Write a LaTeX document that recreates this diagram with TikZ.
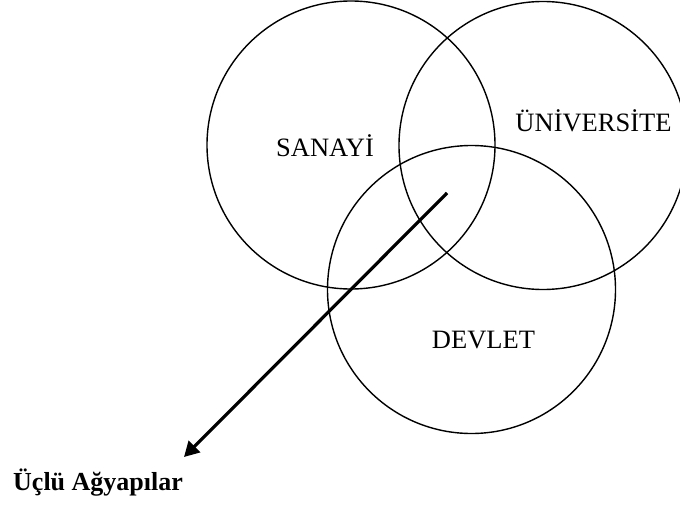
\documentclass[tikz,border=0pt]{standalone}
\usepackage{fontspec}
\setmainfont{Liberation Serif}
\usetikzlibrary{arrows.meta}
\tikzset{
  ring/.style={draw, circle, line width=1.4pt, minimum size=288pt, inner sep=0pt},
  lbl/.style={anchor=base, inner sep=0pt, font=\fontsize{26.5}{30}\selectfont},
  boldlbl/.style={anchor=base west, inner sep=0pt, font=\fontsize{26}{30}\selectfont\bfseries},
  bigarrow/.style={line width=3.2pt, -{Triangle[length=15pt,width=16pt]}}
}
\begin{document}
\begin{tikzpicture}[x=1pt,y=-1pt]
\useasboundingbox (0,0) rectangle (680,506);
\node[ring] (s) at (351,145) {};
\node[ring] (u) at (543,145.5) {};
\node[ring] (d) at (471.5,289.5) {};
\node[lbl] (ts) at (325,156) {SANAYİ};
\node[lbl] (tu) at (593.5,131.5) {ÜNİVERSİTE};
\node[lbl] (td) at (483.5,348) {DEVLET};
\node[boldlbl] (tn) at (13,490) {Üçlü Ağyapılar};
\coordinate (a1) at (447,193);
\coordinate (a2) at (184,457);
\draw[bigarrow] (a1) -- (a2);
\end{tikzpicture}
\end{document}
